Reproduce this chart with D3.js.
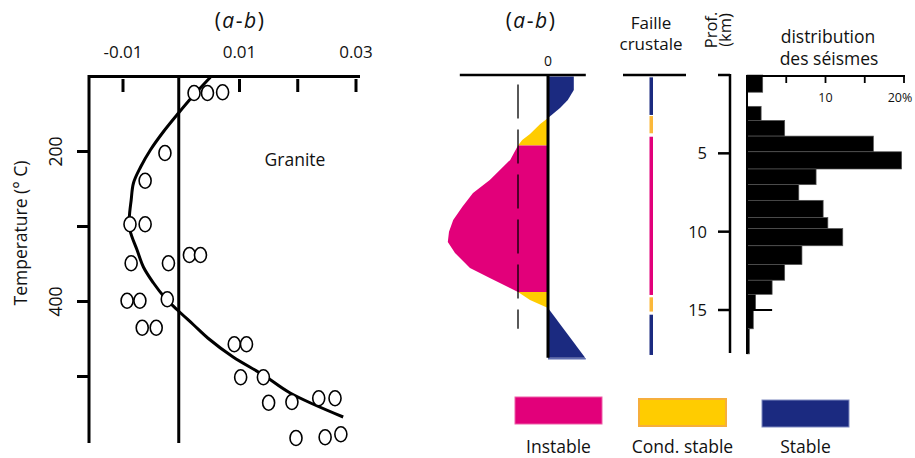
<!DOCTYPE html>
<html><head><meta charset="utf-8">
<script src="https://cdn.jsdelivr.net/npm/d3@7"></script>
<style>
body{margin:0;background:#fff;}
text{font-family:"Open Sans","Noto Sans",sans-serif;fill:#111;}
</style>
</head><body>
<svg id="c" width="915" height="458"></svg>
<script>
// ---------- DATA ----------
// Left panel: (a-b) vs temperature, granite
const abTicks = [-0.01, 0.01, 0.02, 0.03];
const abTickLabels = ["-0.01", "0.01", "", "0.03"];
const tempTicks = [200, 300, 400, 500];
const tempTickLabels = ["200", "", "400", ""];
const pointsAB = [0.0022, 0.0045, 0.0071, -0.0028, -0.0062, -0.0088, -0.0062, -0.0086, -0.0022, 0.0014, 0.0033,
                  -0.0093, -0.0071, -0.0024, -0.0067, -0.0043, 0.0091, 0.0112, 0.0102, 0.0141, 0.0150, 0.0190,
                  0.0236, 0.0264, 0.0197, 0.0247, 0.0274];
const pointsT  = [122, 122, 121, 202, 239, 297, 297, 349, 349, 338, 338,
                  399, 399, 397, 435, 435, 457, 457, 501, 501, 535, 534,
                  529, 529, 582, 581, 577];
const fitAB = [0.0050, 0.0019, -0.0005, -0.0031, -0.0053, -0.0070, -0.0082, -0.0086, -0.0089, -0.0088,
               -0.0076, -0.0065, -0.0048, -0.0028, -0.0007, 0.0021, 0.0046, 0.0089, 0.0141, 0.0187, 0.0278];
const fitT  = [101, 127, 149, 174, 198, 221, 242, 265, 287, 305,
               331, 354, 375, 395, 411, 431, 449, 474, 498, 522, 554];

// Middle panel: schematic (a-b) vs depth (km) -> [depth, a-b]
const stableTop   = [[0.1,0],[0.1,0.0043],[0.96,0.0043],[1.6,0.0033],[2.1,0.002],[2.74,0]];
const condTop     = [[2.74,0],[3.13,-0.0013],[3.77,-0.003],[4.15,-0.0043],[4.5,-0.005],[4.5,0]];
const instable    = [[4.5,0],[4.5,-0.005],[5.42,-0.0063],[6.7,-0.0097],[7.53,-0.0125],[8.42,-0.0143],
                     [9.25,-0.0158],[10.0,-0.0165],[10.66,-0.0167],[11.36,-0.0155],[12.32,-0.013],
                     [12.95,-0.0097],[13.85,-0.005],[13.85,0]];
const condBottom  = [[13.85,-0.005],[13.85,0],[14.87,0],[14.36,-0.003]];
const stableBottom= [[14.87,0],[18.05,0.0062],[18.05,0]];
const refAB = -0.005;           // dashed reference line
const refDepth = [0.6, 16.2];

// Fault column segments
const faultClass  = ["stable", "cond", "instable", "cond", "stable"];
const faultTop    = [0.15, 2.62, 3.94, 14.19, 15.3];
const faultBottom = [2.55, 3.72, 14.04, 15.1, 17.87];

// Earthquake depth distribution (%)
const depthTicks = [0, 5, 10, 15];
const depthTickLabels = ["", "5", "10", "15"];
const histTop    = [0, 1.1, 2.0, 2.9, 3.9, 4.9, 6.0, 7.0, 8.0, 9.1, 9.8, 10.9, 12.1, 13.1, 14.0, 15.0, 16.2];
const histBottom = [1.1, 2.0, 2.9, 3.9, 4.9, 6.0, 7.0, 8.0, 9.1, 9.8, 10.9, 12.1, 13.1, 14.0, 15.0, 16.2, 17.8];
const histPct    = [2.0, 0, 1.8, 4.8, 16.1, 19.7, 8.8, 6.6, 9.7, 10.3, 12.2, 7.0, 4.8, 3.2, 1.1, 0.8, 0.3];
const pctTicks = [5, 10, 15, 20];
const pctTickLabels = ["", "10", "", "20%"];

// Legend
const legendKeys = ["instable", "cond", "stable"];
const legendLabels = ["Instable", "Cond. stable", "Stable"];

// ---------- STYLE ----------
const fillC   = {instable:"#E2007A", cond:"#FFCC00", stable:"#1B2A80"};
const strokeC = {instable:"#EE5FA8", cond:"#F6AE3C", stable:"#7F89C0"};
const faultC  = {instable:"#E2007A", cond:"#FBB83A", stable:"#1B2A80"};

const svg = d3.select("#c");

// ---------- LEFT PANEL ----------
const xL = d3.scaleLinear().domain([-0.01, 0.03]).range([123, 356]);
const yT = d3.scaleLinear().domain([200, 400]).range([151.5, 301.5]);
const gL = svg.append("g");
const topY = yT(100), botY = 443, leftX = 89;

gL.append("line").attr("x1", leftX).attr("x2", 360).attr("y1", topY).attr("y2", topY)
  .attr("stroke", "#000").attr("stroke-width", 3);
gL.append("line").attr("x1", leftX).attr("x2", leftX).attr("y1", topY - 1.5).attr("y2", botY)
  .attr("stroke", "#000").attr("stroke-width", 3);
gL.append("line").attr("x1", xL(0) - 2.5).attr("x2", xL(0) - 2.5).attr("y1", topY).attr("y2", botY)
  .attr("stroke", "#000").attr("stroke-width", 3);

gL.selectAll(".xt").data(abTicks).join("line")
  .attr("x1", d => xL(d)).attr("x2", d => xL(d)).attr("y1", 79).attr("y2", 92)
  .attr("stroke", "#000").attr("stroke-width", 3);
gL.selectAll(".xl").data(abTicks).join("text")
  .attr("x", d => xL(d)).attr("y", 58).attr("text-anchor", "middle")
  .attr("font-size", 17).text((d, i) => abTickLabels[i]);

gL.selectAll(".yt").data(tempTicks).join("line")
  .attr("x1", 77).attr("x2", leftX).attr("y1", d => yT(d)).attr("y2", d => yT(d))
  .attr("stroke", "#000").attr("stroke-width", 3);
gL.selectAll(".yl").data(tempTicks).join("text")
  .attr("transform", d => `translate(62,${yT(d)}) rotate(-90)`)
  .attr("text-anchor", "middle").attr("font-size", 17.5).text((d, i) => tempTickLabels[i]);

gL.append("text").attr("transform", "translate(27,233) rotate(-90)")
  .attr("text-anchor", "middle").attr("font-size", 17.5).text("Temperature (° C)");

function abTitle(g, x, y) {
  const t = g.append("text").attr("x", x).attr("y", y).attr("text-anchor", "middle")
    .attr("font-size", 21).attr("letter-spacing", 1.5);
  t.append("tspan").text("(");
  t.append("tspan").attr("font-style", "italic").text("a");
  t.append("tspan").text("-");
  t.append("tspan").attr("font-style", "italic").text("b");
  t.append("tspan").text(")");
}
abTitle(gL, 240, 28);

gL.append("text").attr("x", 295).attr("y", 166).attr("text-anchor", "middle")
  .attr("font-size", 17.5).text("Granite");

const fitLine = d3.line().x(d => xL(d[0])).y(d => yT(d[1])).curve(d3.curveCatmullRom);
gL.append("path").attr("d", fitLine(fitAB.map((v, i) => [v, fitT[i]])))
  .attr("fill", "none").attr("stroke", "#000").attr("stroke-width", 3);

gL.selectAll(".pt").data(pointsAB.map((v, i) => [v, pointsT[i]])).join("ellipse")
  .attr("cx", d => xL(d[0])).attr("cy", d => yT(d[1])).attr("rx", 6).attr("ry", 7.5)
  .attr("fill", "#fff").attr("stroke", "#000").attr("stroke-width", 1.6);

// ---------- MIDDLE PANEL ----------
const yD = d3.scaleLinear().domain([0, 15]).range([75, 310]);
const xM = d3.scaleLinear().domain([-0.015, 0.0065]).range([458, 587]);
const gM = svg.append("g");
const area = d3.line().x(d => xM(d[1])).y(d => yD(d[0]));
[[stableTop, "stable"], [condTop, "cond"], [instable, "instable"], [condBottom, "cond"], [stableBottom, "stable"]]
  .forEach(([pts, k]) => {
    gM.append("path").attr("d", area(pts) + "Z").attr("fill", fillC[k]);
  });
gM.append("line").attr("x1", xM(0)).attr("x2", xM(0.0063)).attr("y1", yD(18.05) + 1).attr("y2", yD(18.05) + 1)
  .attr("stroke", "#5F6DB0").attr("stroke-width", 1.5);
gM.append("line").attr("x1", xM(refAB)).attr("x2", xM(refAB)).attr("y1", yD(refDepth[0])).attr("y2", yD(refDepth[1]))
  .attr("stroke", "#000").attr("stroke-width", 1.3).attr("stroke-dasharray", "34,11");
gM.append("line").attr("x1", xM(-0.0147)).attr("x2", xM(0.0063)).attr("y1", yD(0)).attr("y2", yD(0))
  .attr("stroke", "#000").attr("stroke-width", 2.5);
gM.append("line").attr("x1", xM(0)).attr("x2", xM(0)).attr("y1", yD(0)).attr("y2", yD(18.05))
  .attr("stroke", "#000").attr("stroke-width", 3);
gM.append("text").attr("x", xM(0)).attr("y", 66).attr("text-anchor", "middle")
  .attr("font-size", 14).text("0");
abTitle(gM, 531, 28);

// ---------- FAULT COLUMN ----------
const gF = svg.append("g");
gF.append("line").attr("x1", 623).attr("x2", 686).attr("y1", yD(0)).attr("y2", yD(0))
  .attr("stroke", "#000").attr("stroke-width", 2.5);
gF.selectAll("rect").data(faultClass).join("rect")
  .attr("x", 649.5).attr("width", 3.5)
  .attr("y", (d, i) => yD(faultTop[i])).attr("height", (d, i) => yD(faultBottom[i]) - yD(faultTop[i]))
  .attr("fill", d => faultC[d]);
gF.append("text").attr("x", 651).attr("y", 29).attr("text-anchor", "middle").attr("font-size", 17).text("Faille");
gF.append("text").attr("x", 651).attr("y", 50).attr("text-anchor", "middle").attr("font-size", 17).text("crustale");

// ---------- DEPTH AXIS + HISTOGRAM ----------
const xH = d3.scaleLinear().domain([0, 20]).range([747, 904]);
const gH = svg.append("g");
gH.append("line").attr("x1", 730).attr("x2", 730).attr("y1", yD(0) - 1).attr("y2", 353)
  .attr("stroke", "#000").attr("stroke-width", 2.5);
gH.selectAll(".dt").data(depthTicks).join("line")
  .attr("x1", 718).attr("x2", 730).attr("y1", d => yD(d)).attr("y2", d => yD(d))
  .attr("stroke", "#000").attr("stroke-width", 2.5);
gH.selectAll(".dl").data(depthTicks).join("text")
  .attr("x", 707).attr("y", d => yD(d) + 6).attr("text-anchor", "end")
  .attr("font-size", 16.5).text((d, i) => depthTickLabels[i]);
gH.append("text").attr("transform", "translate(717,30) rotate(-90)").attr("text-anchor", "middle")
  .attr("font-size", 16.5).text("Prof.");
gH.append("text").attr("transform", "translate(731,30) rotate(-90)").attr("text-anchor", "middle")
  .attr("font-size", 16.5).text("(km)");

gH.selectAll(".bar").data(histPct).join("rect")
  .attr("x", xH(0)).attr("y", (d, i) => yD(histTop[i]))
  .attr("width", d => xH(d) - xH(0)).attr("height", (d, i) => yD(histBottom[i]) - yD(histTop[i]))
  .attr("fill", "#000").attr("stroke", "#555").attr("stroke-width", 0.7);
gH.append("line").attr("x1", xH(0)).attr("x2", xH(0)).attr("y1", yD(0)).attr("y2", 354)
  .attr("stroke", "#000").attr("stroke-width", 2);
gH.append("line").attr("x1", xH(0)).attr("x2", xH(3.2)).attr("y1", yD(15)).attr("y2", yD(15))
  .attr("stroke", "#000").attr("stroke-width", 2);
gH.append("line").attr("x1", xH(0)).attr("x2", xH(20) + 1).attr("y1", yD(0) + 1).attr("y2", yD(0) + 1)
  .attr("stroke", "#000").attr("stroke-width", 2);
gH.selectAll(".ht").data(pctTicks).join("line")
  .attr("x1", d => xH(d)).attr("x2", d => xH(d)).attr("y1", 76).attr("y2", 83)
  .attr("stroke", "#000").attr("stroke-width", 1.8);
gH.selectAll(".hl").data(pctTicks).join("text")
  .attr("x", d => d === 20 ? xH(d) - 4 : xH(d)).attr("y", 102).attr("text-anchor", "middle")
  .attr("font-size", 12.5).text((d, i) => pctTickLabels[i]);
gH.append("text").attr("x", 828).attr("y", 43).attr("text-anchor", "middle").attr("font-size", 17.5).text("distribution");
gH.append("text").attr("x", 829).attr("y", 65).attr("text-anchor", "middle").attr("font-size", 17.5).text("des séismes");

// ---------- LEGEND ----------
const legX = [515, 639, 762];
const legY = [397, 399, 400];
const gLeg = svg.append("g");
legendKeys.forEach((k, i) => {
  gLeg.append("rect").attr("x", legX[i]).attr("y", legY[i]).attr("width", 87).attr("height", 27)
    .attr("fill", fillC[k]).attr("stroke", strokeC[k]).attr("stroke-width", k === "cond" ? 2 : 1);
  gLeg.append("text").attr("x", legX[i] + 43.5).attr("y", 453).attr("text-anchor", "middle")
    .attr("font-size", 17.5).text(legendLabels[i]);
});
</script>
</body></html>
